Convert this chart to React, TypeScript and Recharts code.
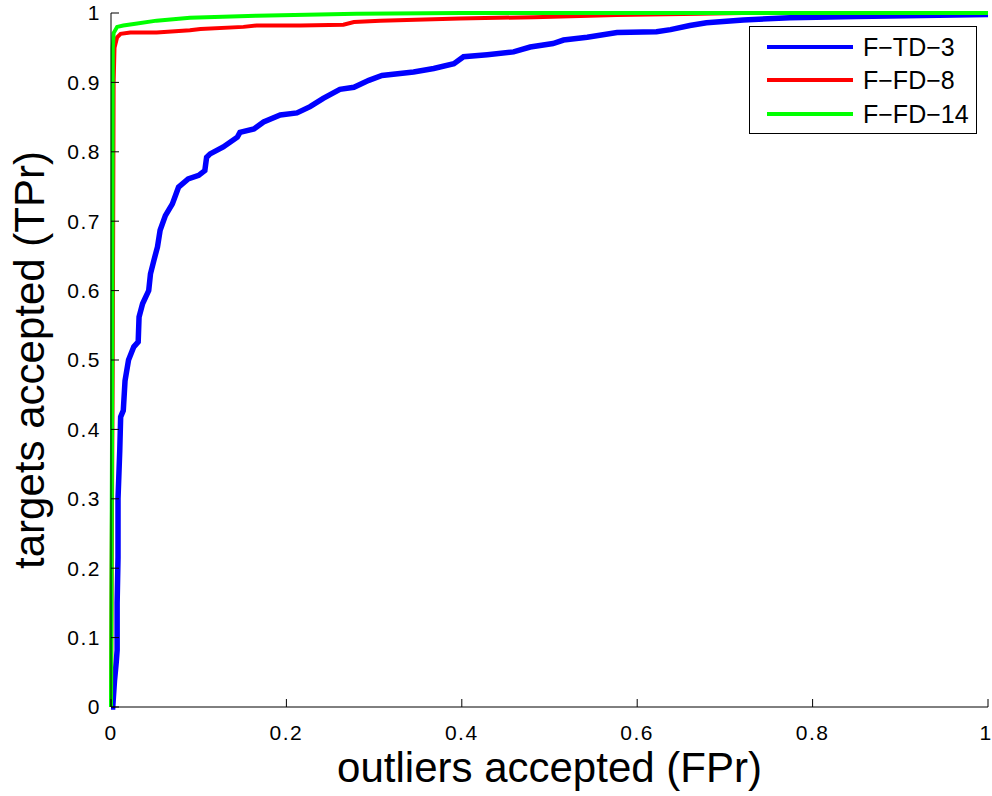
import { LineChart, Line, XAxis, YAxis, Legend } from 'recharts';

// ROC curves: [FPr, TPr]
const fTd3: [number, number][] = [
  [0, 0], [0.002, 0], [0.004, 0.038], [0.006, 0.065], [0.007, 0.082], [0.007, 0.15],
  [0.008, 0.216], [0.008, 0.3], [0.01, 0.37], [0.011, 0.418], [0.014, 0.427], [0.016, 0.47],
  [0.02, 0.5], [0.026, 0.519], [0.031, 0.526], [0.032, 0.562], [0.036, 0.581], [0.043, 0.6],
  [0.045, 0.624], [0.049, 0.644], [0.053, 0.663], [0.056, 0.687], [0.062, 0.708], [0.07, 0.725],
  [0.077, 0.749], [0.088, 0.761], [0.1, 0.766], [0.107, 0.773], [0.109, 0.792], [0.113, 0.797],
  [0.128, 0.807], [0.144, 0.821], [0.147, 0.828], [0.163, 0.833], [0.174, 0.843], [0.193, 0.853],
  [0.212, 0.856], [0.227, 0.865], [0.242, 0.877], [0.261, 0.89], [0.277, 0.893], [0.294, 0.903],
  [0.309, 0.91], [0.345, 0.915], [0.368, 0.92], [0.391, 0.927], [0.402, 0.937], [0.429, 0.94],
  [0.459, 0.944], [0.478, 0.951], [0.504, 0.956], [0.516, 0.961], [0.543, 0.965], [0.577, 0.972],
  [0.622, 0.973], [0.638, 0.976], [0.66, 0.982], [0.679, 0.986], [0.721, 0.99], [0.774, 0.993],
  [0.85, 0.995], [1, 0.998],
];

const fFd8: [number, number][] = [
  [0, 0], [0.002, 0.5], [0.003, 0.9], [0.004, 0.95], [0.007, 0.965], [0.011, 0.97],
  [0.022, 0.972], [0.052, 0.972], [0.09, 0.975], [0.102, 0.977], [0.151, 0.98], [0.166, 0.982],
  [0.216, 0.982], [0.265, 0.983], [0.277, 0.987], [0.307, 0.989], [0.398, 0.992], [0.482, 0.994],
  [0.577, 0.997], [0.671, 0.999], [0.72, 1], [1, 1],
];

const fFd14: [number, number][] = [
  [0, 0], [0.0015, 0.5], [0.002, 0.95], [0.003, 0.971], [0.007, 0.98], [0.014, 0.982],
  [0.026, 0.984], [0.052, 0.989], [0.09, 0.993], [0.166, 0.996], [0.28, 0.999], [0.4, 1], [1, 1],
];

const xTicks = [0, 0.2, 0.4, 0.6, 0.8, 1];
const yTicks = [0, 0.1, 0.2, 0.3, 0.4, 0.5, 0.6, 0.7, 0.8, 0.9, 1];

const SERIES = [
  { name: 'F\u2212TD\u22123', points: fTd3, color: '#0000ff', width: 5.5 },
  { name: 'F\u2212FD\u22128', points: fFd8, color: '#ff0000', width: 4 },
  { name: 'F\u2212FD\u221214', points: fFd14, color: '#00ff00', width: 4 },
];
const ORDER = SERIES.map((s) => s.name);

const FONT = '"Liberation Sans", Arial, Helvetica, sans-serif';
const tickStyle = { fill: '#000', fontSize: 21, fontFamily: FONT, letterSpacing: 1.5 };
const blank = () => '';

function LegendBox({ payload }: { payload?: Array<{ value: string; color: string }> }) {
  if (!payload) return null;
  // keep plotting order (recharts sorts legend items by name)
  const items = [...payload].sort((a, b) => ORDER.indexOf(a.value) - ORDER.indexOf(b.value));
  return (
    <div
      style={{
        position: 'relative',
        width: 228,
        height: 108,
        boxSizing: 'border-box',
        border: '1px solid #000',
        background: '#fff',
        fontFamily: FONT,
        fontSize: 25,
        color: '#000',
      }}
    >
      {items.map((p, i) => (
        <div
          key={p.value}
          style={{
            position: 'absolute',
            left: 0,
            top: 20 + i * 33.3 - 15,
            height: 30,
            display: 'flex',
            alignItems: 'center',
          }}
        >
          <span style={{ display: 'inline-block', marginLeft: 17, width: 86, height: 4, background: p.color }} />
          <span style={{ marginLeft: 10, lineHeight: '30px' }}>{p.value}</span>
        </div>
      ))}
    </div>
  );
}

export default function App() {
  return (
    <div style={{ position: 'absolute', left: 0, top: 0, background: '#fff' }}>
      <LineChart width={992} height={796} margin={{ top: 13, right: 4, bottom: 0, left: 0 }}>
        <XAxis
          type="number"
          dataKey="x"
          domain={[0, 1]}
          ticks={xTicks}
          height={89}
          stroke="#000"
          tickSize={-8}
          tickMargin={26}
          tick={tickStyle}
          label={{
            content: () => (
              <text x={549.5} y={782} textAnchor="middle" fill="#000" fontSize={42} fontFamily={FONT}>
                outliers accepted (FPr)
              </text>
            ),
          }}
        />
        <XAxis
          xAxisId="top"
          orientation="top"
          type="number"
          domain={[0, 1]}
          ticks={xTicks}
          height={0}
          stroke="#000"
          tickSize={-8}
          tickFormatter={blank}
        />
        <YAxis
          type="number"
          domain={[0, 1]}
          ticks={yTicks}
          width={111}
          stroke="#000"
          tickSize={-8}
          tickMargin={18}
          tick={tickStyle}
          label={{
            content: () => (
              <text
                x={44}
                y={360}
                transform="rotate(-90, 44, 360)"
                textAnchor="middle"
                fill="#000"
                fontSize={42}
                fontFamily={FONT}
              >
                targets accepted (TPr)
              </text>
            ),
          }}
        />
        <YAxis
          yAxisId="right"
          orientation="right"
          type="number"
          domain={[0, 1]}
          ticks={yTicks}
          width={0}
          stroke="#000"
          tickSize={-8}
          tickFormatter={blank}
        />
        <Legend
          layout="horizontal"
          align="center"
          verticalAlign="middle"
          content={<LegendBox />}
          wrapperStyle={{ position: 'absolute', left: 749, top: 26, width: 228, height: 108 }}
        />
        {SERIES.map((s) => (
          <Line
            key={s.name}
            name={s.name}
            data={s.points.map(([x, y]) => ({ x, y }))}
            dataKey="y"
            type="linear"
            stroke={s.color}
            strokeWidth={s.width}
            dot={false}
            activeDot={false}
            isAnimationActive={false}
          />
        ))}
      </LineChart>
    </div>
  );
}
